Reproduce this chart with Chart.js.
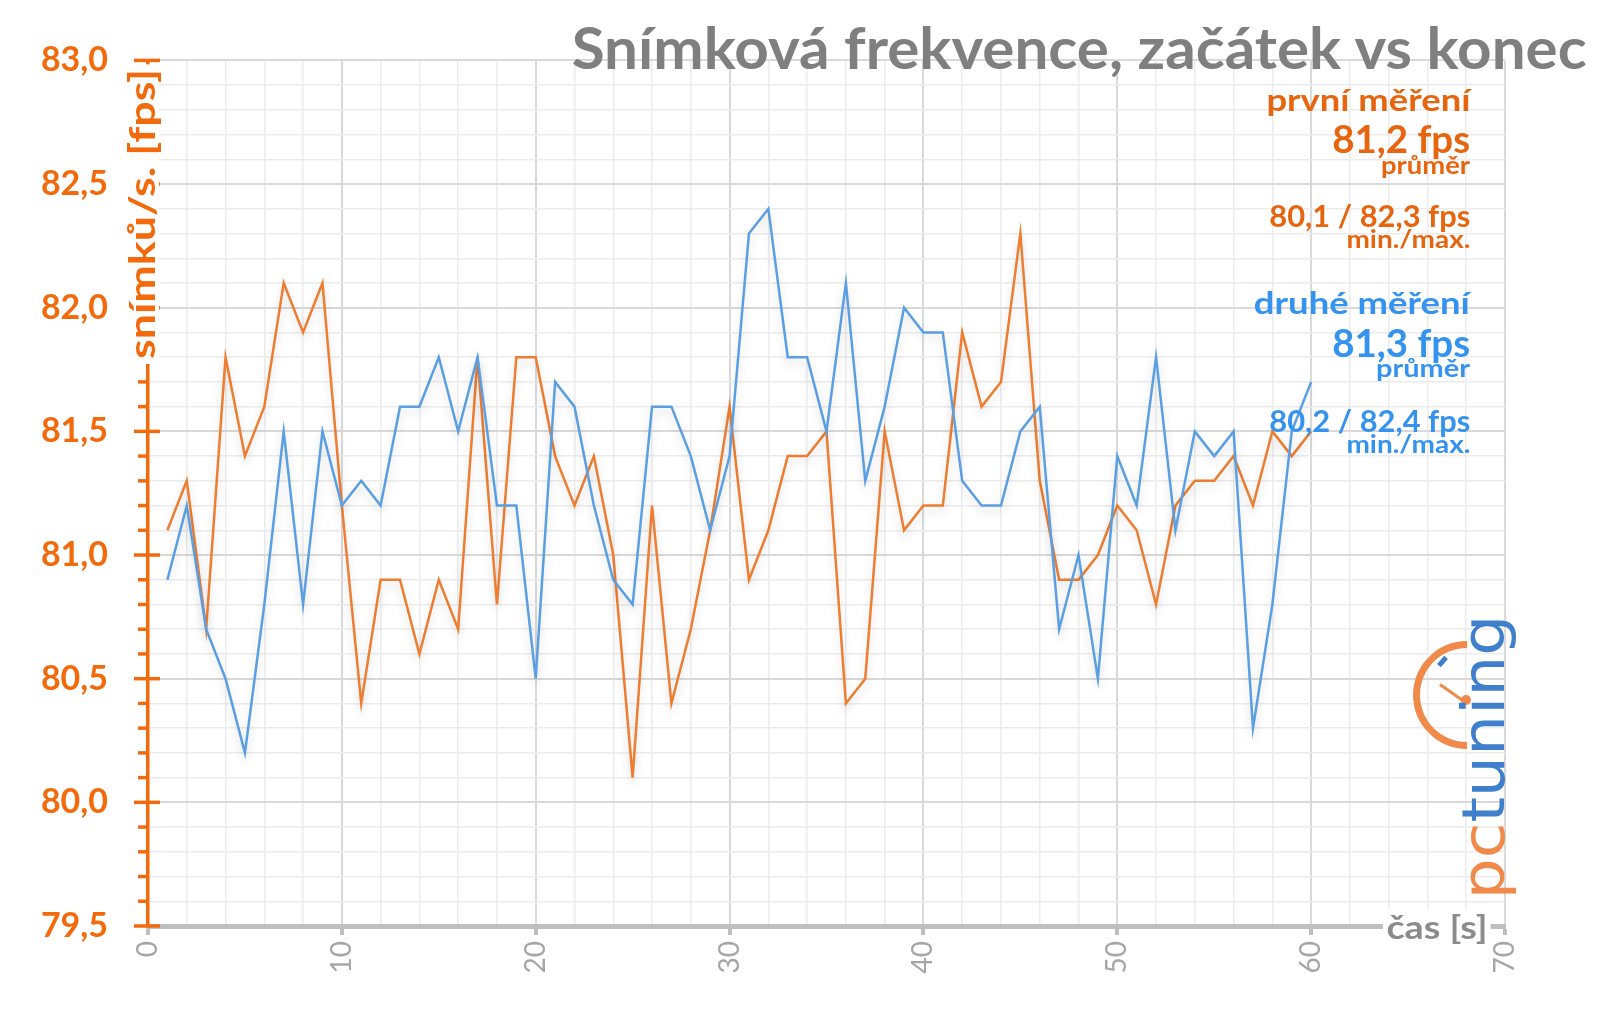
<!DOCTYPE html>
<html lang="cs">
<head>
<meta charset="UTF-8">
<title>Snímková frekvence, začátek vs konec</title>
<script src="https://cdn.jsdelivr.net/npm/chart.js"></script>
<style>
  body { margin: 0; background: #fff; font-family: Lato, 'Open Sans', sans-serif; }
  .wrap { position: relative; width: 1600px; height: 1009px; overflow: hidden; }
  canvas { position: absolute; left: 0; top: 0; }
  .t { position: absolute; white-space: nowrap; font-weight: bold; line-height: 1; }
  .r { transform-origin: right center; }
  .orange { color: #e8650f; }
  .blue { color: #3593f0; }
  #title { right: 13px; top: 18px; font-size: 58px; color: #7f7f7f; }
  #ytitle { left: 141px; top: 214px; font-size: 36px; color: #f26a0c; background: #fff; padding: 0 4px;
            transform-origin: center center; }
  #xtitle { left: 1437px; top: 926px; font-size: 33px; color: #8c8c8c; background: #fff; padding: 0 3px;
            transform-origin: center center; }
  #logo { left: 1484px; top: 757px; font-family: 'DejaVu Sans', sans-serif; font-size: 58px; font-weight: normal;
          transform-origin: center center; }
  #logo .pc { color: #f08a4b; }
  #logo .tu { color: #3f7fcc; }
  #clock { position: absolute; left: 1413px; top: 641px; width: 108px; height: 108px; box-sizing: border-box;
           border: 7px solid #f08a4b; border-right-color: transparent; border-bottom-color: transparent;
           border-radius: 50%; transform: rotate(-45deg); }
  #needle { position: absolute; left: 1440px; top: 683px; width: 30px; height: 3px; background: #f08a4b;
            transform: rotate(35deg); transform-origin: left center; }
  #hub { position: absolute; left: 1461px; top: 695px; width: 10px; height: 10px; border-radius: 50%; background: #f08a4b; }
  #dash { position: absolute; left: 1440px; top: 656px; width: 5px; height: 11px; background: #3f7fcc; transform: rotate(40deg); }
</style>
</head>
<body>
<div class="wrap">
  <canvas id="chart" width="1600" height="1009"></canvas>

  <div id="clock"></div>
  <div id="needle"></div>
  <div id="hub"></div>
  <div id="dash"></div>
  <div class="t" id="logo"><span class="pc">pc</span><span class="tu">tuning</span></div>

  <div class="t r" id="title">Snímková frekvence, začátek vs konec</div>

  <div class="t r orange" style="right:130px; top:84px; font-size:30px;" data-w="204">první měření</div>
  <div class="t r orange" style="right:130px; top:119px; font-size:38px;" data-w="138">81,2 fps</div>
  <div class="t r orange" style="right:130px; top:153px; font-size:24px;" data-w="89">průměr</div>
  <div class="t r orange" style="right:130px; top:200px; font-size:30px;" data-w="201">80,1 / 82,3 fps</div>
  <div class="t r orange" style="right:130px; top:227px; font-size:24px;" data-w="124">min./max.</div>

  <div class="t r blue" style="right:130px; top:287px; font-size:30px;" data-w="216">druhé měření</div>
  <div class="t r blue" style="right:130px; top:323px; font-size:38px;" data-w="138">81,3 fps</div>
  <div class="t r blue" style="right:130px; top:356px; font-size:24px;" data-w="94">průměr</div>
  <div class="t r blue" style="right:130px; top:405px; font-size:30px;" data-w="201">80,2 / 82,4 fps</div>
  <div class="t r blue" style="right:130px; top:432px; font-size:24px;" data-w="124">min./max.</div>

  <div class="t" id="ytitle">snímků/s. [fps]</div>
  <div class="t" id="xtitle">čas [s]</div>
</div>

<script>
  // seconds of the run
  const seconds = [1, 2, 3, 4, 5, 6, 7, 8, 9, 10, 11, 12, 13, 14, 15, 16, 17, 18, 19, 20,
                   21, 22, 23, 24, 25, 26, 27, 28, 29, 30, 31, 32, 33, 34, 35, 36, 37, 38, 39, 40,
                   41, 42, 43, 44, 45, 46, 47, 48, 49, 50, 51, 52, 53, 54, 55, 56, 57, 58, 59, 60];

  // první měření
  const firstRun = [81.1, 81.3, 80.7, 81.8, 81.4, 81.6, 82.1, 81.9, 82.1, 81.2,
                    80.4, 80.9, 80.9, 80.6, 80.9, 80.7, 81.8, 80.8, 81.8, 81.8,
                    81.4, 81.2, 81.4, 81.0, 80.1, 81.2, 80.4, 80.7, 81.1, 81.6,
                    80.9, 81.1, 81.4, 81.4, 81.5, 80.4, 80.5, 81.5, 81.1, 81.2,
                    81.2, 81.9, 81.6, 81.7, 82.3, 81.3, 80.9, 80.9, 81.0, 81.2,
                    81.1, 80.8, 81.2, 81.3, 81.3, 81.4, 81.2, 81.5, 81.4, 81.5];

  // druhé měření
  const secondRun = [80.9, 81.2, 80.7, 80.5, 80.2, 80.8, 81.5, 80.8, 81.5, 81.2,
                     81.3, 81.2, 81.6, 81.6, 81.8, 81.5, 81.8, 81.2, 81.2, 80.5,
                     81.7, 81.6, 81.2, 80.9, 80.8, 81.6, 81.6, 81.4, 81.1, 81.4,
                     82.3, 82.4, 81.8, 81.8, 81.5, 82.1, 81.3, 81.6, 82.0, 81.9,
                     81.9, 81.3, 81.2, 81.2, 81.5, 81.6, 80.7, 81.0, 80.5, 81.4,
                     81.2, 81.8, 81.1, 81.5, 81.4, 81.5, 80.3, 80.8, 81.5, 81.7];

  const xMin = 0, xMax = 70, xMajor = 10, xMinor = 2;
  const yMin = 79.5, yMax = 83.0;

  const axisOrange = '#f26a0c';
  const isMajorX = v => v % xMajor === 0;
  const isMajorY = v => Math.round(v * 10) % 5 === 0;

  const points = arr => seconds.map((s, i) => ({ x: s, y: arr[i] }));

  // soft shadow under the lines, like the original
  const lineShadow = {
    id: 'lineShadow',
    beforeDatasetDraw(chart) {
      const c = chart.ctx;
      c.save();
      c.shadowColor = 'rgba(0,0,0,0.16)';
      c.shadowBlur = 10;
      c.shadowOffsetY = 5;
    },
    afterDatasetDraw(chart) {
      chart.ctx.restore();
    }
  };

  // orange tick marks on the y axis, major ones cross the axis
  const yTicks = {
    id: 'yTicks',
    afterDraw(chart) {
      const { ctx, chartArea } = chart;
      const y = chart.scales.y;
      const x0 = chartArea.left;
      ctx.save();
      ctx.strokeStyle = axisOrange;
      ctx.lineWidth = 3.5;
      y.ticks.forEach(t => {
        const py = y.getPixelForValue(t.value);
        const major = isMajorY(t.value);
        ctx.beginPath();
        ctx.moveTo(x0 - (major ? 14 : 10), py);
        ctx.lineTo(x0 + (major ? 12 : 0), py);
        ctx.stroke();
      });
      ctx.restore();
    }
  };

  new Chart(document.getElementById('chart'), {
    type: 'line',
    data: {
      datasets: [
        {
          label: 'první měření',
          data: points(firstRun),
          borderColor: '#ed7d31',
          borderWidth: 2.5,
          pointRadius: 0,
          tension: 0,
          order: 2
        },
        {
          label: 'druhé měření',
          data: points(secondRun),
          borderColor: '#5b9fe3',
          borderWidth: 2.5,
          pointRadius: 0,
          tension: 0,
          order: 1
        }
      ]
    },
    options: {
      responsive: false,
      animation: false,
      devicePixelRatio: 1,
      layout: { padding: { top: 55, right: 95, left: 0, bottom: 0 } },
      plugins: {
        legend: { display: false },
        tooltip: { enabled: false }
      },
      scales: {
        x: {
          type: 'linear',
          min: xMin,
          max: xMax,
          afterFit: s => { s.height = 83; },
          ticks: {
            stepSize: xMinor,
            autoSkip: false,
            minRotation: 90,
            maxRotation: 90,
            padding: 6,
            color: '#a6a6a6',
            font: { family: 'Lato', size: 28 },
            callback: v => isMajorX(v) ? String(v) : ''
          },
          grid: {
            color: c => isMajorX(c.tick.value) ? '#d9d9d9' : '#ececec',
            lineWidth: c => isMajorX(c.tick.value) ? 2 : 1.5,
            drawTicks: true,
            tickLength: 9,
            tickWidth: 4,
            tickColor: c => isMajorX(c.tick.value) ? '#bfbfbf' : 'rgba(0,0,0,0)'
          },
          border: { color: '#bfbfbf', width: 5 }
        },
        y: {
          min: yMin,
          max: yMax,
          afterFit: s => { s.width = 148; },
          ticks: {
            stepSize: 0.1,
            autoSkip: false,
            padding: 40,
            color: axisOrange,
            font: { family: 'Lato', size: 34, weight: 'bold' },
            callback: v => isMajorY(v) ? v.toFixed(1).replace('.', ',') : ''
          },
          grid: {
            color: c => isMajorY(c.tick.value) ? '#d9d9d9' : '#ececec',
            lineWidth: c => isMajorY(c.tick.value) ? 2 : 1.5,
            drawTicks: false
          },
          border: { color: axisOrange, width: 3.5 }
        }
      }
    },
    plugins: [lineShadow, yTicks]
  });

  // squeeze texts to the widths of the original
  function fitWidth(el, w, pre, post) {
    const r = w / el.getBoundingClientRect().width;
    el.style.transform = (pre || '') + ` scaleX(${r})` + (post || '');
  }
  document.querySelectorAll('[data-w]').forEach(el => fitWidth(el, +el.dataset.w));
  fitWidth(document.getElementById('title'), 1015);

  const yt = document.getElementById('ytitle');
  fitWidth(yt, 300, 'translate(-50%,-50%) rotate(-90deg)');
  const xt = document.getElementById('xtitle');
  fitWidth(xt, 108, 'translate(-50%,-50%)');
  const logo = document.getElementById('logo');
  fitWidth(logo, 285, 'translate(-50%,-50%) rotate(-90deg)');
</script>
</body>
</html>
